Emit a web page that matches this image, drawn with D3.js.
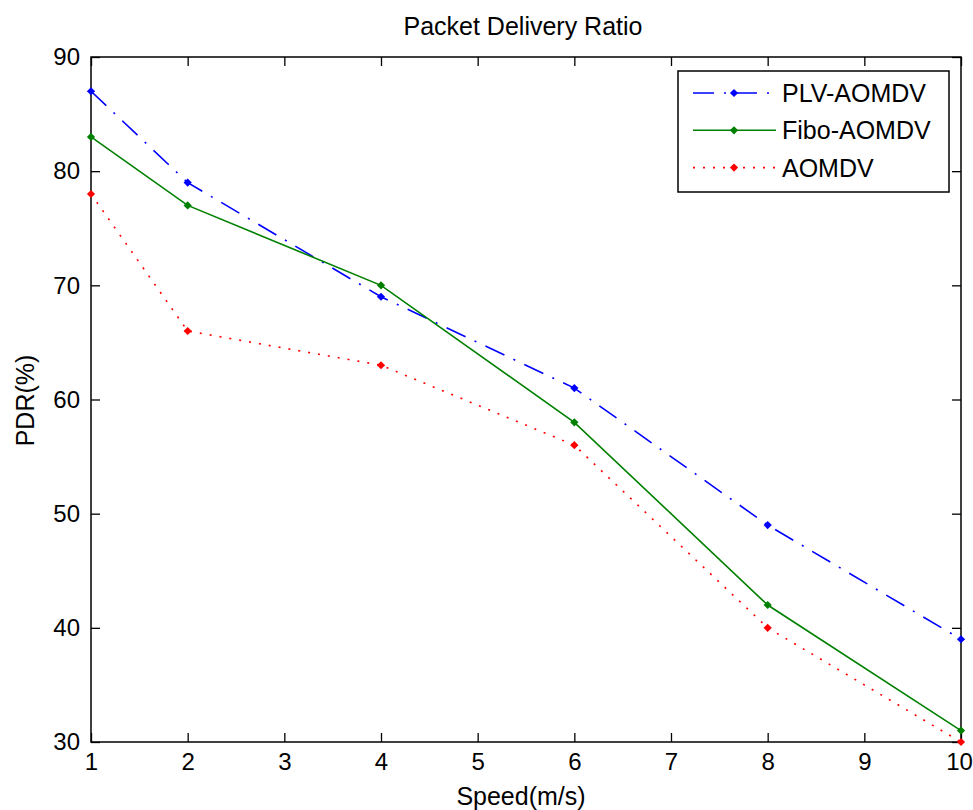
<!DOCTYPE html>
<html>
<head>
<meta charset="utf-8">
<script src="https://cdn.jsdelivr.net/npm/d3@7"></script>
<style>
  body { margin: 0; background: #fff; }
  text { font-family: "Liberation Sans", Arial, sans-serif; fill: #000; }
</style>
</head>
<body>
<div id="chart"></div>
<script>
// data
let speeds = [1, 2, 4, 6, 8, 10];
let plvAomdv = [87, 79, 69, 61, 49, 39];
let fiboAomdv = [83, 77, 70, 58, 42, 31];
let aomdv = [78, 66, 63, 56, 40, 30];
let xTicks = [1, 2, 3, 4, 5, 6, 7, 8, 9, 10];
let yTicks = [30, 40, 50, 60, 70, 80, 90];

let series = [
  { name: 'PLV-AOMDV', values: plvAomdv, color: '#0000ff', dash: '21,10,2,10' },
  { name: 'Fibo-AOMDV', values: fiboAomdv, color: '#008000', dash: null },
  { name: 'AOMDV', values: aomdv, color: '#ff0000', dash: '2,8' }
];

let W = 973, H = 810;
let margin = { top: 57, left: 91, right: 12, bottom: 68 },
  width = W - margin.left - margin.right,
  height = H - margin.top - margin.bottom;

let svg = d3.select('#chart')
  .append('svg')
  .attr('width', W)
  .attr('height', H)
  .style('background-color', 'white');

let g = svg.append('g')
  .attr('transform', 'translate(' + margin.left + ',' + margin.top + ')');

let x = d3.scaleLinear().domain([1, 10]).range([0, width]);
let y = d3.scaleLinear().domain([30, 90]).range([height, 0]);

let fs = 25, tickFs = 24;

// axes, ticks pointing inward on all four sides
function styleAxis(sel, showText) {
  sel.select('.domain').remove();
  sel.selectAll('line').attr('stroke', '#000').attr('stroke-width', 1.3);
  sel.selectAll('text').style('font-size', tickFs + 'px')
    .style('font-family', '"Liberation Sans", Arial, sans-serif');
  if (!showText) sel.selectAll('text').remove();
}

let xAxis = g.append('g')
  .attr('transform', 'translate(0,' + height + ')')
  .call(d3.axisBottom(x).tickValues(xTicks).tickSizeInner(-9).tickSizeOuter(0).tickPadding(11))
  .call(s => styleAxis(s, true));
// last label sits at the page edge
xAxis.selectAll('.tick text').filter(d => d === 10).attr('dx', -2);

g.append('g')
  .call(d3.axisTop(x).tickValues(xTicks).tickSizeInner(-9).tickSizeOuter(0))
  .call(s => styleAxis(s, false));

g.append('g')
  .call(d3.axisLeft(y).tickValues(yTicks).tickSizeInner(-9).tickSizeOuter(0).tickPadding(11))
  .call(s => styleAxis(s, true));

g.append('g')
  .attr('transform', 'translate(' + width + ',0)')
  .call(d3.axisRight(y).tickValues(yTicks).tickSizeInner(-9).tickSizeOuter(0))
  .call(s => styleAxis(s, false));

// box
g.append('rect')
  .attr('x', 0).attr('y', 0)
  .attr('width', width).attr('height', height)
  .attr('fill', 'none')
  .attr('stroke', '#000')
  .attr('stroke-width', 1.5);

// lines
let line = d3.line()
  .x((d, i) => x(speeds[i]))
  .y(d => y(d));

let marker = d3.symbol().type(d3.symbolSquare).size(34);

series.forEach(s => {
  g.append('path')
    .datum(s.values)
    .attr('d', line)
    .attr('fill', 'none')
    .attr('stroke', s.color)
    .attr('stroke-width', 1.6)
    .attr('stroke-dasharray', s.dash);

  g.selectAll(null)
    .data(s.values)
    .enter().append('path')
    .attr('d', marker)
    .attr('transform', (d, i) => 'translate(' + x(speeds[i]) + ',' + y(d) + ') rotate(45)')
    .attr('fill', s.color);
});

// title and labels
svg.append('text')
  .attr('x', margin.left + width / 2 - 3)
  .attr('y', 35)
  .attr('text-anchor', 'middle')
  .style('font-size', fs + 'px')
  .text('Packet Delivery Ratio');

svg.append('text')
  .attr('x', margin.left + width / 2 - 5)
  .attr('y', 805)
  .attr('text-anchor', 'middle')
  .style('font-size', fs + 'px')
  .text('Speed(m/s)');

svg.append('text')
  .attr('transform', 'translate(34,' + (margin.top + height / 2 + 1) + ') rotate(-90)')
  .attr('text-anchor', 'middle')
  .style('font-size', fs + 'px')
  .text('PDR(%)');

// legend
let legend = svg.append('g').attr('transform', 'translate(678,71)');
legend.append('rect')
  .attr('width', 271).attr('height', 121)
  .attr('fill', 'white')
  .attr('stroke', '#000')
  .attr('stroke-width', 1.5);

series.forEach((s, i) => {
  let cy = 22 + i * 37.3;
  legend.append('line')
    .attr('x1', 15).attr('x2', 98)
    .attr('y1', cy).attr('y2', cy)
    .attr('stroke', s.color)
    .attr('stroke-width', 1.6)
    .attr('stroke-dasharray', s.dash);
  legend.append('path')
    .attr('d', marker)
    .attr('transform', 'translate(56,' + cy + ') rotate(45)')
    .attr('fill', s.color);
  legend.append('text')
    .attr('x', 104)
    .attr('y', cy + 9)
    .style('font-size', fs + 'px')
    .text(s.name);
});
</script>
</body>
</html>
